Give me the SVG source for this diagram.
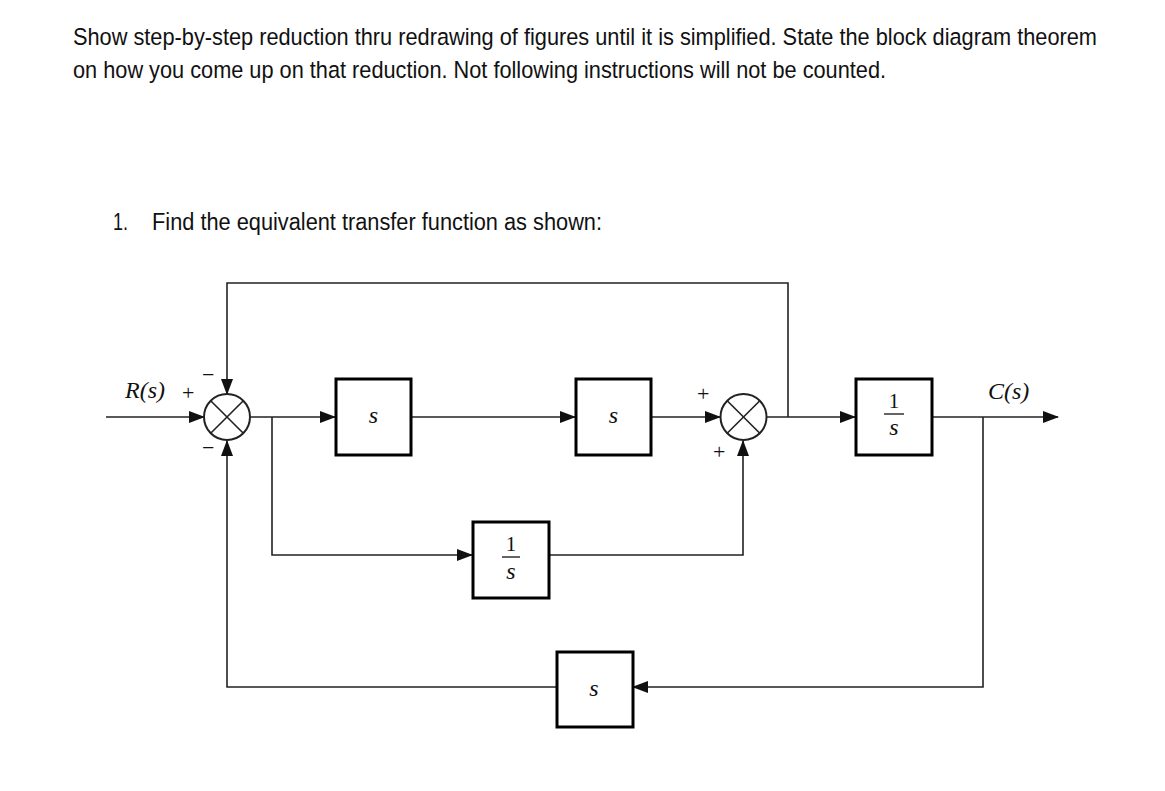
<svg xmlns="http://www.w3.org/2000/svg" width="1165" height="791" viewBox="0 0 1165 791">
<style>
.hdr{font-family:"Liberation Sans",Arial,sans-serif;font-size:23.5px;fill:#111}
.blk{fill:#fff;stroke:#000;stroke-width:3}
.sum{fill:#fff;stroke:#222;stroke-width:2}
.ln{fill:none;stroke:#222;stroke-width:1.6}
.mth{font-family:"Liberation Serif","Times New Roman",serif;font-style:italic;font-size:24px;fill:#111}
.num{font-family:"Liberation Serif","Times New Roman",serif;font-size:21px;fill:#111}
.sg{font-family:"Liberation Serif","Times New Roman",serif;font-size:22px;fill:#111}
</style>
<defs>
<marker id="ar" markerWidth="16" markerHeight="12" refX="15" refY="6" orient="auto" markerUnits="userSpaceOnUse">
<path d="M0,0 L16,6 L0,12 z" fill="#111"/>
</marker>
</defs>
<rect width="1165" height="791" fill="#fff"/>
<g transform="translate(73,0) scale(0.88,1)">
<text class="hdr" x="0" y="45" textLength="1163.6" lengthAdjust="spacingAndGlyphs">Show step-by-step reduction thru redrawing of figures until it is simplified. State the block diagram theorem</text>
<text class="hdr" x="0" y="78" textLength="923.9" lengthAdjust="spacingAndGlyphs">on how you come up on that reduction. Not following instructions will not be counted.</text>
</g>
<text class="hdr" x="113" y="230" textLength="15" lengthAdjust="spacingAndGlyphs">1.</text>
<text class="hdr" x="152" y="230" textLength="450" lengthAdjust="spacingAndGlyphs">Find the equivalent transfer function as shown:</text>

<g id="connectors">
<line class="ln" x1="106" y1="417" x2="204" y2="417" marker-end="url(#ar)"/>
<line class="ln" x1="251" y1="417" x2="335" y2="417" marker-end="url(#ar)"/>
<line class="ln" x1="411" y1="417" x2="575" y2="417" marker-end="url(#ar)"/>
<line class="ln" x1="651" y1="417" x2="720" y2="417" marker-end="url(#ar)"/>
<line class="ln" x1="767" y1="417" x2="855" y2="417" marker-end="url(#ar)"/>
<line class="ln" x1="932" y1="417" x2="1058" y2="417" marker-end="url(#ar)"/>
<polyline class="ln" points="788,417 788,283 227,283 227,394" marker-end="url(#ar)"/>
<polyline class="ln" points="272,417 272,555 472,555" marker-end="url(#ar)"/>
<polyline class="ln" points="549,555 743,555 743,441" marker-end="url(#ar)"/>
<polyline class="ln" points="983,417 983,687 633,687" marker-end="url(#ar)"/>
<polyline class="ln" points="556,687 227,687 227,441" marker-end="url(#ar)"/>
</g>

<g id="sum1">
<circle class="sum" cx="227" cy="417" r="23"/>
<line class="ln" stroke-width="2" x1="210.7" y1="400.7" x2="243.3" y2="433.3"/>
<line class="ln" stroke-width="2" x1="243.3" y1="400.7" x2="210.7" y2="433.3"/>
<text class="mth" x="125" y="398">R(<tspan>s</tspan>)</text>
<text class="sg" x="182" y="400">+</text>
<text class="sg" x="202" y="382">−</text>
<text class="sg" x="202" y="455">−</text>
</g>

<g id="block_s1">
<rect class="blk" x="336" y="379" width="75" height="76"/>
<text class="mth" x="373.5" y="423" text-anchor="middle">s</text>
</g>

<g id="block_s2">
<rect class="blk" x="576" y="379" width="75" height="76"/>
<text class="mth" x="613.5" y="423" text-anchor="middle">s</text>
</g>

<g id="sum2">
<circle class="sum" cx="743.5" cy="417" r="23"/>
<line class="ln" stroke-width="2" x1="727.2" y1="400.7" x2="759.8" y2="433.3"/>
<line class="ln" stroke-width="2" x1="759.8" y1="400.7" x2="727.2" y2="433.3"/>
<text class="sg" x="697" y="401">+</text>
<text class="sg" x="713" y="459">+</text>
</g>

<g id="block_inv_s1">
<rect class="blk" x="856" y="379" width="76" height="76"/>
<text class="num" x="894" y="408" text-anchor="middle">1</text>
<line x1="884" y1="414" x2="904" y2="414" stroke="#111" stroke-width="1.3"/>
<text class="mth" x="894" y="435" text-anchor="middle">s</text>
<text class="mth" x="988" y="399">C(<tspan>s</tspan>)</text>
</g>

<g id="block_inv_s2">
<rect class="blk" x="473" y="522" width="76" height="76"/>
<text class="num" x="511" y="551" text-anchor="middle">1</text>
<line x1="502" y1="557" x2="520" y2="557" stroke="#111" stroke-width="1.3"/>
<text class="mth" x="511" y="579" text-anchor="middle">s</text>
</g>

<g id="block_s3">
<rect class="blk" x="557" y="652" width="76" height="75"/>
<text class="mth" x="594" y="696" text-anchor="middle">s</text>
</g>
</svg>
